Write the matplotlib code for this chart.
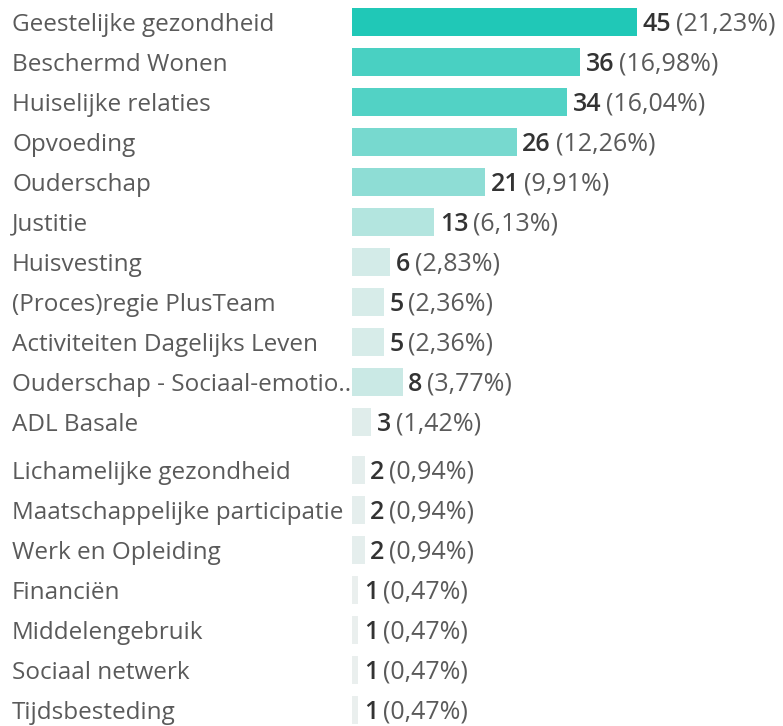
import matplotlib
matplotlib.use('Agg')
import matplotlib.pyplot as plt
from matplotlib.colors import LinearSegmentedColormap
from matplotlib.transforms import blended_transform_factory

categories = [
    'Geestelijke gezondheid', 'Beschermd Wonen', 'Huiselijke relaties', 'Opvoeding',
    'Ouderschap', 'Justitie', 'Huisvesting', '(Proces)regie PlusTeam',
    'Activiteiten Dagelijks Leven', 'Ouderschap - Sociaal-emotio..', 'ADL Basale',
    'Lichamelijke gezondheid', 'Maatschappelijke participatie', 'Werk en Opleiding',
    'Financiën', 'Middelengebruik', 'Sociaal netwerk', 'Tijdsbesteding',
]
counts = [45, 36, 34, 26, 21, 13, 6, 5, 5, 8, 3, 2, 2, 2, 1, 1, 1, 1]
first_group = 11  # rows before the small gap

total = sum(counts)

plt.rcParams['font.family'] = ['Open Sans', 'DejaVu Sans']

fig = plt.figure(figsize=(7.83, 7.26), dpi=100)
ax = fig.add_axes([352 / 783, 0, 431 / 783, 1])
ax.axis('off')

cmap = LinearSegmentedColormap.from_list('teal', ['#eef0ef', '#20c8b7'])

ypos = [i if i < first_group else i + 0.2 for i in range(len(counts))]
colors = [cmap(c / max(counts)) for c in counts]
ax.barh(ypos, counts, height=0.7, color=colors)

ax.set_xlim(0, 431 / (285 / 45))
ax.set_ylim(726 / 40 - 0.55, -0.55)

lab_tr = blended_transform_factory(fig.transFigure, ax.transData)
for y, name, c in zip(ypos, categories, counts):
    ax.annotate(name, xy=(12 / 783, y), xycoords=lab_tr, xytext=(0, -2),
                textcoords='offset points', ha='left', va='center',
                fontsize=17.5, color='#5a5a5a')
    t = ax.annotate(str(c), xy=(c, y), xytext=(4, -1.5), textcoords='offset points',
                    ha='left', va='center', fontsize=18, color='#333333',
                    fontweight='semibold')
    pct = f'({c / total * 100:.2f}%)'.replace('.', ',')
    ax.annotate(pct, xy=(1, 0), xycoords=t, xytext=(3.5, 0), textcoords='offset points',
                ha='left', va='bottom', fontsize=18, color='#5a5a5a')

fig.savefig('out.png', dpi=100)
